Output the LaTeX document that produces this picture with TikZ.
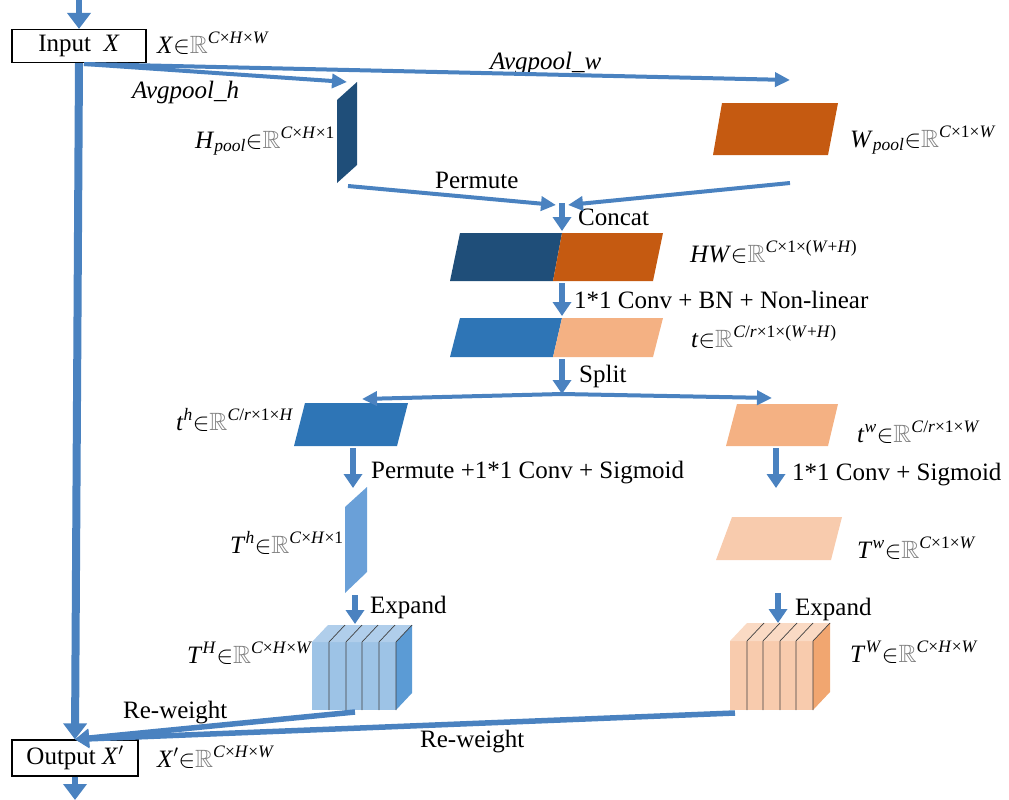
\documentclass[tikz,border=0pt]{standalone}
\usepackage{fontspec}
\setmainfont{Liberation Serif}
\usepackage{amssymb}
\usetikzlibrary{arrows.meta}
\definecolor{flow}{RGB}{74,130,192}
\definecolor{dkblue}{RGB}{31,78,121}
\definecolor{dkorange}{RGB}{197,90,17}
\definecolor{midblue}{RGB}{46,117,182}
\definecolor{ltorange}{RGB}{244,177,131}
\definecolor{skyblue}{RGB}{106,160,216}
\definecolor{peach}{RGB}{248,203,173}
\definecolor{cubefront}{RGB}{157,195,230}
\definecolor{cubetop}{RGB}{176,206,235}
\definecolor{cubeside}{RGB}{91,155,213}
\definecolor{peachtop}{RGB}{250,218,196}
\definecolor{peachside}{RGB}{241,166,112}
\tikzstyle{line} = [draw=flow, -{Triangle[length=14pt,width=18pt]}, line width=5.5pt]
\tikzstyle{thinline} = [line, line width=4pt, -{Triangle[length=15pt,width=14pt]}]
\tikzstyle{trunk} = [line, line width=8pt, -{Triangle[length=16pt,width=23pt]}]
\tikzstyle{io} = [draw, rectangle, line width=1.2pt, minimum width=134pt, minimum height=33pt, inner sep=0pt]
\tikzstyle{lab} = [anchor=base west, inner sep=0pt]
\tikzstyle{slice} = [draw=black!75, line width=0.7pt]
\newcommand{\inR}[1]{$\in$\textcolor{gray}{$\mathbb{R}$}\textsuperscript{#1}}

\begin{document}
\begin{tikzpicture}[x=1pt, y=-1pt, font=\fontsize{25}{30}\selectfont]
    \useasboundingbox (0,0) rectangle (1009,800);
    % input and output
    \node[io] (input) at (79,46) {Input\ \ \textit{X}};
    \node[io, minimum width=126pt, minimum height=36pt] (output) at (75,758) {Output \textit{X}$'$};
    % feature maps
    \fill[dkblue] (337,100) -- (357,82) -- (357,165) -- (337,183) -- cycle;
    \fill[dkorange] (722,103) -- (838,103) -- (828,155) -- (713,155) -- cycle;
    \fill[dkblue] (460,233) -- (562,233) -- (553,281) -- (450,281) -- cycle;
    \fill[dkorange] (562,233) -- (663,233) -- (653,281) -- (553,281) -- cycle;
    \fill[midblue] (460,318) -- (562,318) -- (553,357) -- (450,357) -- cycle;
    \fill[ltorange] (562,318) -- (663,318) -- (653,357) -- (553,357) -- cycle;
    \fill[midblue] (305,403) -- (408,403) -- (397,446) -- (294,446) -- cycle;
    \fill[ltorange] (737,404) -- (838,404) -- (828,446) -- (726,446) -- cycle;
    \fill[skyblue] (345,507) -- (367,487) -- (367,572) -- (345,593) -- cycle;
    \fill[peach] (732,517) -- (842,517) -- (831,560) -- (716,560) -- cycle;
    % expanded cubes
    \fill[cubefront] (312,642) rectangle (396,710);
    \fill[cubetop] (312,642) -- (328,625) -- (412,625) -- (396,642) -- cycle;
    \fill[cubeside] (396,642) -- (412,625) -- (412,693) -- (396,710) -- cycle;
    \foreach \sx in {329,346,362,379,396}
        \draw[slice] (\sx,710) -- (\sx,642) -- ++(16,-17);
    \fill[peach] (730,641) rectangle (813,710);
    \fill[peachtop] (730,641) -- (747,623) -- (830,623) -- (813,641) -- cycle;
    \fill[peachside] (813,641) -- (830,623) -- (830,692) -- (813,710) -- cycle;
    \foreach \sx in {747,763,780,796,813}
        \draw[slice] (\sx,710) -- (\sx,641) -- ++(17,-18);
    % labels
    \node[lab] (xlab) at (157,53) {\textit{X}\inR{\textit{C}×\textit{H}×\textit{W}}};
    \node[lab] (avgh) at (132,99) {\textit{Avgpool\_h}};
    \node[lab] (avgw) at (490,70) {\textit{Avgpool\_w}};
    \node[lab] (hlab) at (195,148) {\textit{H}\textsubscript{\textit{pool}}\inR{\textit{C}×\textit{H}×1}};
    \node[lab] (wlab) at (850,147) {\textit{W}\textsubscript{\textit{pool}}\inR{\textit{C}×1×\textit{W}}};
    \node[lab] (perm) at (435,188) {Permute};
    \node[lab] (concat) at (578,225) {Concat};
    \node[lab] (hwlab) at (690,262) {\textit{HW}\inR{\textit{C}×1×(\textit{W}+\textit{H})}};
    \node[lab] (conv) at (574,308) {1*1 Conv + BN + Non-linear};
    \node[lab] (tlab) at (691,347) {\textit{t}\inR{\textit{C}/\textit{r}×1×(\textit{W}+\textit{H})}};
    \node[lab] (split) at (579,382) {Split};
    \node[lab] (thlab) at (176,430) {\textit{t}\textsuperscript{\textit{h}}\inR{\textit{C}/\textit{r}×1×\textit{H}}};
    \node[lab] (twlab) at (857,442) {\textit{t}\textsuperscript{\textit{w}}\inR{\textit{C}/\textit{r}×1×\textit{W}}};
    \node[lab] (convh) at (371,478) {Permute +1*1 Conv + Sigmoid};
    \node[lab] (convw) at (792,480) {1*1 Conv + Sigmoid};
    \node[lab] (Thlab) at (230,553) {\textit{T}\textsuperscript{\textit{h}}\inR{\textit{C}×\textit{H}×1}};
    \node[lab] (Twlab) at (857,558) {\textit{T}\textsuperscript{\textit{w}}\inR{\textit{C}×1×\textit{W}}};
    \node[lab] (exph) at (370,613) {Expand};
    \node[lab] (expw) at (795,615) {Expand};
    \node[lab] (THlab) at (187,663) {\textit{T}\textsuperscript{\textit{H}}\inR{\textit{C}×\textit{H}×\textit{W}}};
    \node[lab] (TWlab) at (850,662) {\textit{T}\textsuperscript{\textit{W}}\inR{\textit{C}×\textit{H}×\textit{W}}};
    \node[lab] (rwh) at (123,718) {Re-weight};
    \node[lab] (rww) at (420,747) {Re-weight};
    \node[lab] (xplab) at (157,767) {\textit{X}$'$\inR{\textit{C}×\textit{H}×\textit{W}}};
    % connector ends
    \coordinate (top) at (79,0);
    \coordinate (bottom) at (75,800);
    \coordinate (fork) at (84,64);
    \coordinate (hpoolIn) at (347,82);
    \coordinate (wpoolIn) at (790,80);
    \coordinate (hpoolOut) at (348,186);
    \coordinate (wpoolOut) at (790,183);
    \coordinate (catL) at (556,205);
    \coordinate (catR) at (568,205);
    \coordinate (cat) at (562,203);
    \coordinate (hwIn) at (562,231);
    \coordinate (hwOut) at (562,283);
    \coordinate (tIn) at (562,316);
    \coordinate (tOut) at (562,359);
    \coordinate (fan) at (562,394);
    \coordinate (thIn) at (362,399);
    \coordinate (twIn) at (772,398);
    \coordinate (thOut) at (353,448);
    \coordinate (ThIn) at (353,488);
    \coordinate (twOut) at (776,448);
    \coordinate (TwIn) at (776,488);
    \coordinate (ThOut) at (355,595);
    \coordinate (THIn) at (355,624);
    \coordinate (TwOut) at (778,593);
    \coordinate (TWIn) at (778,623);
    \coordinate (THOut) at (355,712);
    \coordinate (TWOut) at (735,713);
    % connectors
    \path[trunk, line width=6pt] (top) -- (input);
    \path[trunk] (input.south) -- (output.north);
    \path[trunk, line width=6pt] (output) -- (bottom);
    \path[thinline] (fork) -- (hpoolIn);
    \path[thinline] (fork) -- (wpoolIn);
    \path[thinline] (hpoolOut) -- (catL);
    \path[thinline] (wpoolOut) -- (catR);
    \path[line] (cat) -- (hwIn);
    \path[line] (hwOut) -- (tIn);
    \path[line] (tOut) -- (fan);
    \path[thinline] (fan) -- (thIn);
    \path[thinline] (fan) -- (twIn);
    \path[line] (thOut) -- (ThIn);
    \path[line] (twOut) -- (TwIn);
    \path[line] (ThOut) -- (THIn);
    \path[line] (TwOut) -- (TWIn);
    \path[line] (THOut) -- (output.north);
    \path[line] (TWOut) -- (output.north);
\end{tikzpicture}
\end{document}
